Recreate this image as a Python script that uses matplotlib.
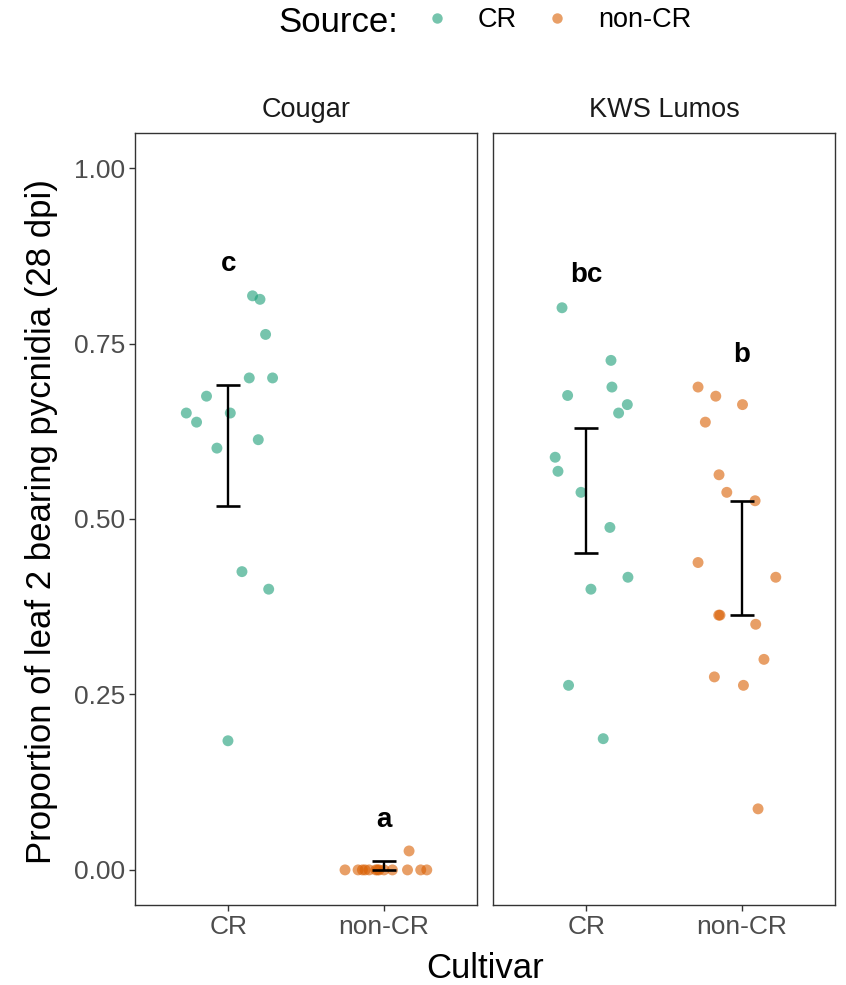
import numpy as np
import matplotlib
matplotlib.use("Agg")
import matplotlib.pyplot as plt
from matplotlib.lines import Line2D

plt.rcParams["font.family"] = ["Liberation Sans", "DejaVu Sans"]

cultivars = ["Cougar", "KWS Lumos"]
sources = ["CR", "non-CR"]
colors = {"CR": "#1B9E77", "non-CR": "#D95F02"}

# proportion values, with the horizontal jitter seen
cougar_cr = [0.818, 0.813, 0.763, 0.701, 0.701, 0.675, 0.651, 0.651, 0.638,
             0.613, 0.601, 0.425, 0.400, 0.184]
cougar_cr_jit = [0.156, 0.204, 0.240, 0.135, 0.285, -0.14, -0.27, 0.013,
                 -0.204, 0.193, -0.073, 0.088, 0.26, -0.002]
cougar_non = [0.0, 0.0, 0.0, 0.0, 0.0, 0.0, 0.0, 0.0, 0.0, 0.0, 0.0, 0.0,
              0.0, 0.027]
cougar_non_jit = [-0.249, -0.165, -0.137, -0.094, -0.051, -0.030, -0.04,
                  0.002, 0.056, 0.153, 0.238, 0.277, -0.12, 0.163]
lumos_cr = [0.801, 0.726, 0.688, 0.676, 0.663, 0.651, 0.588, 0.568, 0.538,
            0.488, 0.417, 0.400, 0.263, 0.187]
lumos_cr_jit = [-0.156, 0.159, 0.165, -0.12, 0.264, 0.208, -0.2, -0.182,
                -0.034, 0.152, 0.268, 0.030, -0.114, 0.109]
lumos_non = [0.688, 0.675, 0.663, 0.638, 0.563, 0.538, 0.526, 0.438, 0.417,
             0.363, 0.363, 0.350, 0.300, 0.275, 0.263, 0.087]
lumos_non_jit = [-0.281, -0.167, 0.005, -0.234, -0.146, -0.096, 0.086,
                 -0.281, 0.219, -0.14, -0.148, 0.09, 0.143, -0.176, 0.011,
                 0.105]

# error bars (lower, upper) per cultivar and source
err_low = {"Cougar": [0.519, 0.0], "KWS Lumos": [0.452, 0.363]}
err_high = {"Cougar": [0.691, 0.012], "KWS Lumos": [0.629, 0.526]}

# significance letters and their heights
letters = {"Cougar": ["c", "a"], "KWS Lumos": ["bc", "b"]}
letter_y = {"Cougar": [0.864, 0.071], "KWS Lumos": [0.847, 0.734]}

points = {
    "Cougar": {"CR": (cougar_cr, cougar_cr_jit),
               "non-CR": (cougar_non, cougar_non_jit)},
    "KWS Lumos": {"CR": (lumos_cr, lumos_cr_jit),
                  "non-CR": (lumos_non, lumos_non_jit)},
}

W, H = 846, 985
fig = plt.figure(figsize=(W / 100, H / 100), dpi=100)
panel_left = [135, 493]
panel_w = 342
top, bottom = 133, 905

axes = []
for i, cult in enumerate(cultivars):
    ax = fig.add_axes([panel_left[i] / W, 1 - bottom / H,
                       panel_w / W, (bottom - top) / H])
    axes.append(ax)
    for j, src in enumerate(sources):
        yv, jit = points[cult][src]
        xv = np.full(len(yv), j + 1.0) + np.array(jit)
        ax.scatter(xv, yv, s=62, color=colors[src], alpha=0.6,
                   edgecolors="none", zorder=2)
    xs = np.arange(1, 3)
    lo = np.array(err_low[cult])
    hi = np.array(err_high[cult])
    mid = (lo + hi) / 2
    ax.errorbar(xs, mid, yerr=[mid - lo, hi - mid], fmt="none",
                ecolor="black", elinewidth=1.7, capsize=8.5, capthick=1.9,
                zorder=3)
    for j, lab in enumerate(letters[cult]):
        ax.text(j + 1, letter_y[cult][j], lab, ha="center", va="center",
                fontsize=20, fontweight="bold", zorder=4)

    ax.set_xlim(0.4, 2.6)
    ax.set_ylim(-0.05, 1.05)
    ax.set_xticks([1, 2])
    ax.set_xticklabels(sources)
    ax.tick_params(axis="x", length=4, width=1, color="#333333",
                   labelsize=19, labelcolor="#4D4D4D", pad=3)
    if i == 0:
        ax.set_yticks([0, 0.25, 0.5, 0.75, 1.0])
        ax.set_yticklabels(["0.00", "0.25", "0.50", "0.75", "1.00"])
        ax.tick_params(axis="y", length=4, width=1, color="#333333",
                       labelsize=19, labelcolor="#4D4D4D", pad=3)
    else:
        ax.set_yticks([])
    for sp in ax.spines.values():
        sp.set_color("#333333")
        sp.set_linewidth(1.0)
    ax.text(0.5, 1 + 23 / (bottom - top), cult, transform=ax.transAxes,
            ha="center", va="center", fontsize=19.5, color="#1A1A1A")

fig.text(42 / W, 1 - 522 / H, "Proportion of leaf 2 bearing pycnidia (28 dpi)",
         rotation=90, ha="center", va="center", fontsize=25)
fig.text(485 / W, 1 - 968 / H, "Cultivar", ha="center", va="center",
         fontsize=25)

fig.text(278 / W, 1 - 22 / H, "Source:", ha="left", va="center", fontsize=25)
handles = [Line2D([], [], marker="o", linestyle="none", markersize=7.5,
                  markerfacecolor=colors[s], markeredgecolor="none",
                  alpha=0.6) for s in sources]
fig.legend(handles, sources, loc="center left",
           bbox_to_anchor=(410 / W, 1 - 20 / H), ncol=2, frameon=False,
           fontsize=19.5, handletextpad=0.5, columnspacing=0.5,
           borderaxespad=0, borderpad=0)

fig.savefig("out.png", dpi=100)
